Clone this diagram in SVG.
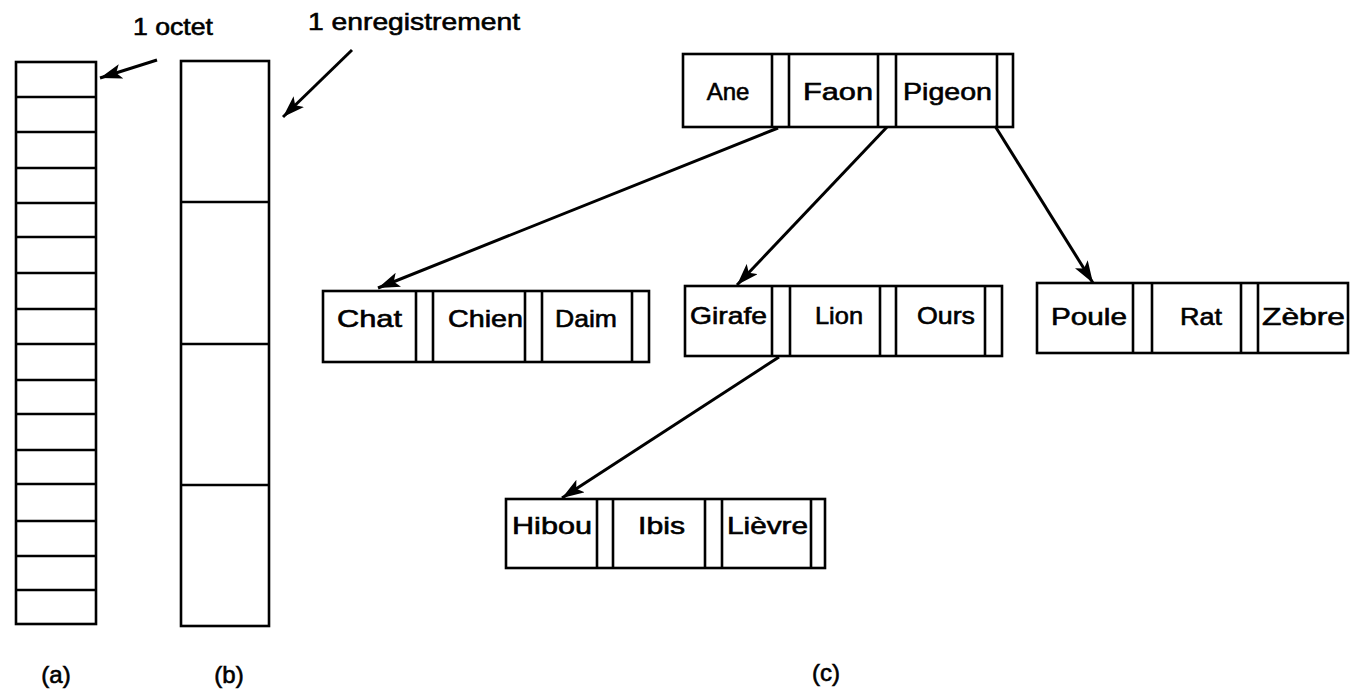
<svg xmlns="http://www.w3.org/2000/svg" width="1350" height="694" viewBox="0 0 1350 694">
<style>
.box{fill:none;stroke:#000;stroke-width:2.6}
.div{stroke:#000;stroke-width:2.6}
.arr{stroke:#000;stroke-width:3;fill:none;marker-end:url(#ah)}
text{font-family:"Liberation Sans",Arial,sans-serif;font-size:24px;fill:#000;stroke:#000;stroke-width:0.6}
.lbl{text-anchor:middle}
</style>
<defs>
<marker id="ah" markerUnits="userSpaceOnUse" markerWidth="24" markerHeight="16" refX="22" refY="7.5" orient="auto">
<path d="M0,0 L22,7.5 L0,15 L5,7.5 z" fill="#000"/>
</marker>
</defs>
<rect width="1350" height="694" fill="#fff"/>

<g id="colA">
<rect class="box" x="16" y="62" width="80" height="562"/>
<path class="div" d="M16,97H96M16,132H96M16,168H96M16,203H96M16,237H96M16,273H96M16,309H96M16,344H96M16,380H96M16,414H96M16,450H96M16,484H96M16,521H96M16,556H96M16,590H96"/>
<text x="56" y="683" class="lbl">(a)</text>
</g>

<g id="colB">
<rect class="box" x="181" y="61" width="88" height="565"/>
<path class="div" d="M181,202H269M181,344H269M181,485H269"/>
<text x="229" y="683" class="lbl">(b)</text>
</g>

<g id="lblOctet"><text x="133" y="35" textLength="80" lengthAdjust="spacingAndGlyphs">1 octet</text></g>
<g id="lblEnreg"><text x="308" y="30" textLength="212" lengthAdjust="spacingAndGlyphs">1 enregistrement</text></g>

<g id="root">
<rect class="box" x="683" y="54" width="330" height="73"/>
<path class="div" d="M772,54V127M789,54V127M878,54V127M896,54V127M997,54V127"/>
<text x="728" y="100" class="lbl">Ane</text>
<text x="803" y="100" textLength="70" lengthAdjust="spacingAndGlyphs">Faon</text>
<text x="903" y="100" textLength="89" lengthAdjust="spacingAndGlyphs">Pigeon</text>
</g>

<g id="nodeChat">
<rect class="box" x="323" y="291" width="326" height="71"/>
<path class="div" d="M416,291V362M433,291V362M525,291V362M542,291V362M632,291V362"/>
<text x="337" y="327" textLength="65" lengthAdjust="spacingAndGlyphs">Chat</text>
<text x="448" y="327" textLength="75" lengthAdjust="spacingAndGlyphs">Chien</text>
<text x="555" y="327" textLength="62" lengthAdjust="spacingAndGlyphs">Daim</text>
</g>

<g id="nodeGirafe">
<rect class="box" x="685" y="286" width="317" height="70"/>
<path class="div" d="M772,286V356M790,286V356M880,286V356M896,286V356M985,286V356"/>
<text x="690" y="324" textLength="77" lengthAdjust="spacingAndGlyphs">Girafe</text>
<text x="815" y="324" textLength="48" lengthAdjust="spacingAndGlyphs">Lion</text>
<text x="917" y="324" textLength="58" lengthAdjust="spacingAndGlyphs">Ours</text>
</g>

<g id="nodePoule">
<rect class="box" x="1037" y="283" width="311" height="70"/>
<path class="div" d="M1133,283V353M1152,283V353M1241,283V353M1258,283V353"/>
<text x="1051" y="325" textLength="76" lengthAdjust="spacingAndGlyphs">Poule</text>
<text x="1180" y="325" textLength="42" lengthAdjust="spacingAndGlyphs">Rat</text>
<text x="1262" y="325" textLength="83" lengthAdjust="spacingAndGlyphs">Zèbre</text>
</g>

<g id="nodeHibou">
<rect class="box" x="506" y="499" width="319" height="69"/>
<path class="div" d="M597,499V568M613,499V568M705,499V568M722,499V568M811,499V568"/>
<text x="512" y="534" textLength="80" lengthAdjust="spacingAndGlyphs">Hibou</text>
<text x="638" y="534" textLength="47" lengthAdjust="spacingAndGlyphs">Ibis</text>
<text x="727" y="534" textLength="81" lengthAdjust="spacingAndGlyphs">Lièvre</text>
</g>

<g id="lblC"><text x="826" y="681" class="lbl">(c)</text></g>

<g id="connectors">
<line class="arr" x1="157" y1="60" x2="100" y2="78"/>
<line class="arr" x1="352" y1="50" x2="283" y2="117"/>
<line class="arr" x1="778" y1="128" x2="378" y2="288"/>
<line class="arr" x1="887" y1="127" x2="737" y2="285"/>
<line class="arr" x1="995" y1="126" x2="1093" y2="283"/>
<line class="arr" x1="779" y1="357" x2="562" y2="498"/>
</g>
</svg>
